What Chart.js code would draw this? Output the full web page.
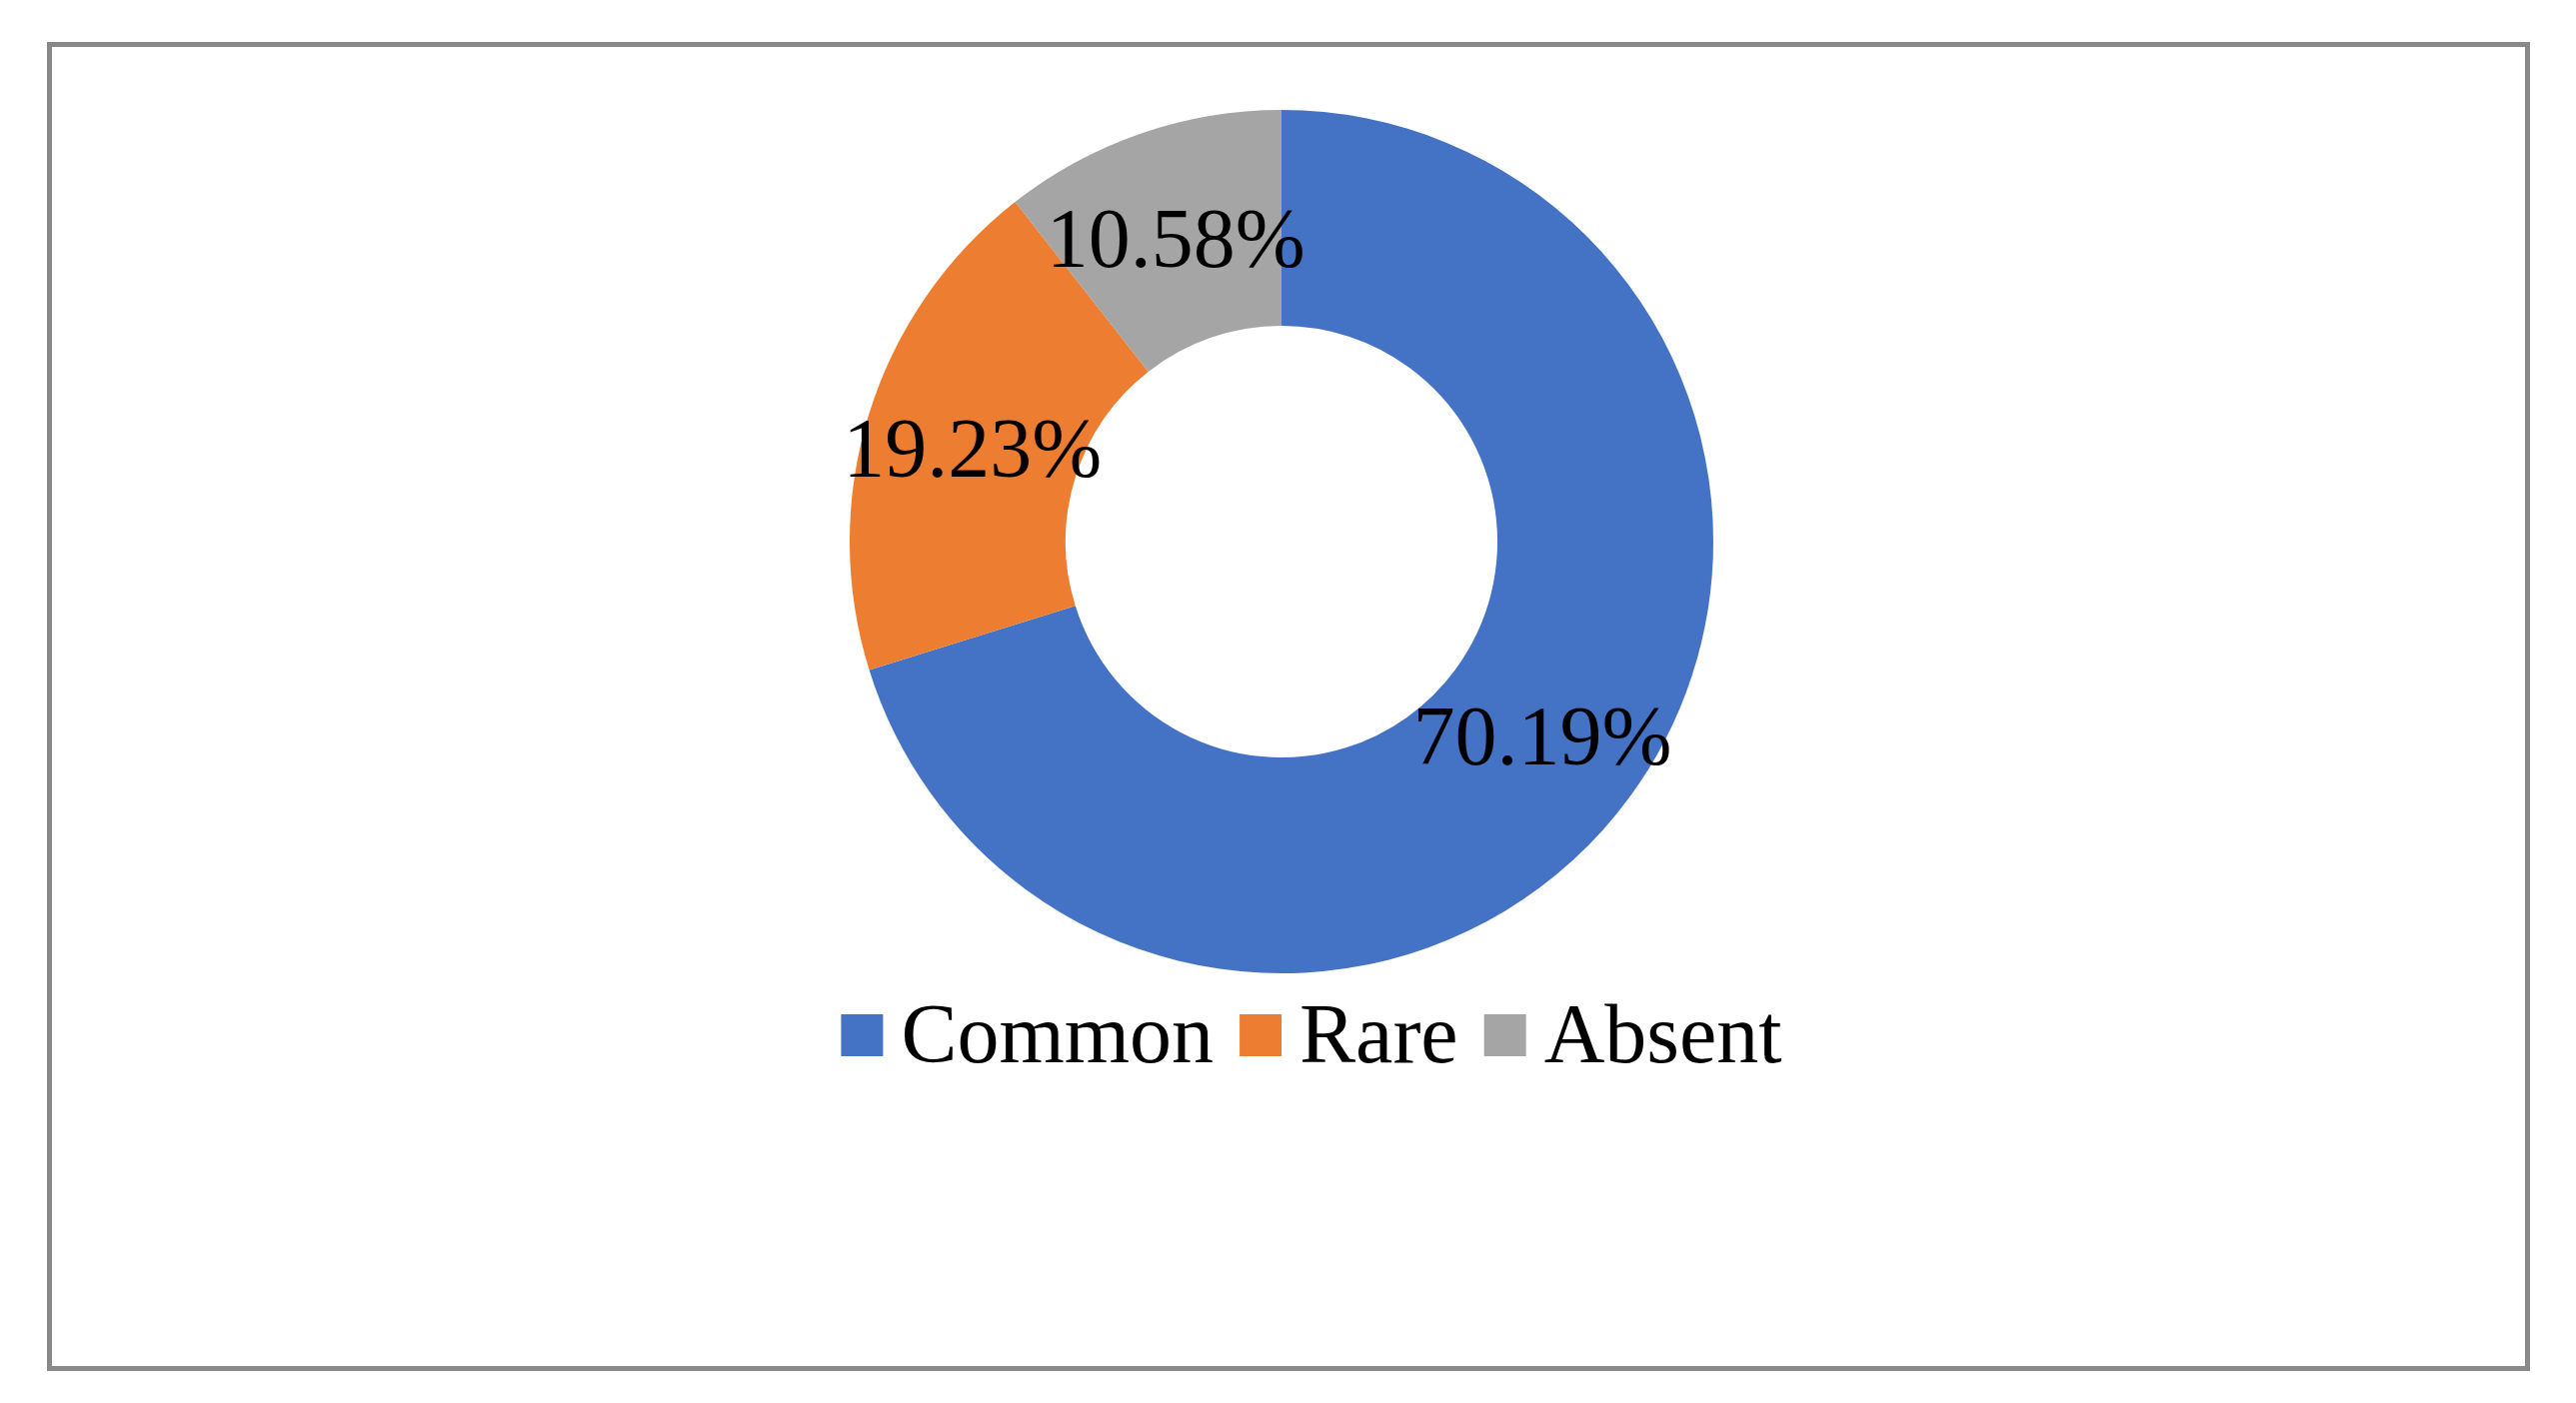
<!DOCTYPE html>
<html>
<head>
<meta charset="utf-8">
<script src="https://cdn.jsdelivr.net/npm/chart.js@4.4.1/dist/chart.umd.min.js"></script>
<style>
  html, body { margin: 0; padding: 0; background: #fff; }
  #wrap { position: relative; width: 2577px; height: 1404px; }
</style>
</head>
<body>
<div id="wrap"><canvas id="chart"></canvas></div>
<script>
// data
var categories = ['Common', 'Rare', 'Absent'];
var shares = [70.19, 19.23, 10.58];
var sliceColors = ['#4472C4', '#ED7D31', '#A5A5A5'];

var FONT = '"Liberation Serif", "Times New Roman", serif';

// frame, percentage labels and the legend row
var decorations = {
    id: 'decorations',
    beforeDraw: function (chart) {
        var c = chart.ctx;
        c.save();
        c.fillStyle = '#ffffff';
        c.fillRect(0, 0, chart.width, chart.height);
        c.strokeStyle = '#898989';
        c.lineWidth = 5;
        c.strokeRect(49.5, 44.5, 2479, 1325);
        c.restore();
    },
    afterDatasetsDraw: function (chart) {
        var c = chart.ctx;
        var meta = chart.getDatasetMeta(0);
        var values = chart.data.datasets[0].data;
        c.save();
        c.font = '84px ' + FONT;
        c.fillStyle = '#000000';
        c.textAlign = 'center';
        c.textBaseline = 'alphabetic';
        meta.data.forEach(function (arc, i) {
            var p = arc.tooltipPosition();
            c.fillText(values[i].toFixed(2) + '%', p.x, p.y + 31);
        });

        // legend
        var box = 42, gapText = 18, gapItem = 26;
        c.textAlign = 'left';
        var widths = categories.map(function (t) { return c.measureText(t).width; });
        var total = 0;
        widths.forEach(function (w) { total += box + gapText + w; });
        total += gapItem * (categories.length - 1);
        var x = 1312 - total / 2;
        categories.forEach(function (t, i) {
            c.fillStyle = sliceColors[i];
            c.fillRect(x, 1015, box, box);
            x += box + gapText;
            c.fillStyle = '#000000';
            c.fillText(t, x, 1063);
            x += widths[i] + gapItem;
        });
        c.restore();
    }
};

var ctx = document.getElementById('chart').getContext('2d');
var chart = new Chart(ctx, {
    type: 'doughnut',
    data: {
        labels: categories,
        datasets: [{
            data: shares,
            backgroundColor: sliceColors,
            borderWidth: 0,
            hoverOffset: 0
        }]
    },
    options: {
        responsive: true,
        maintainAspectRatio: false,
        animation: false,
        cutout: '50%',
        layout: { padding: { top: 110, bottom: 430, left: 0, right: 13 } },
        plugins: {
            legend: { display: false },
            tooltip: { enabled: false }
        }
    },
    plugins: [decorations]
});
</script>
</body>
</html>
